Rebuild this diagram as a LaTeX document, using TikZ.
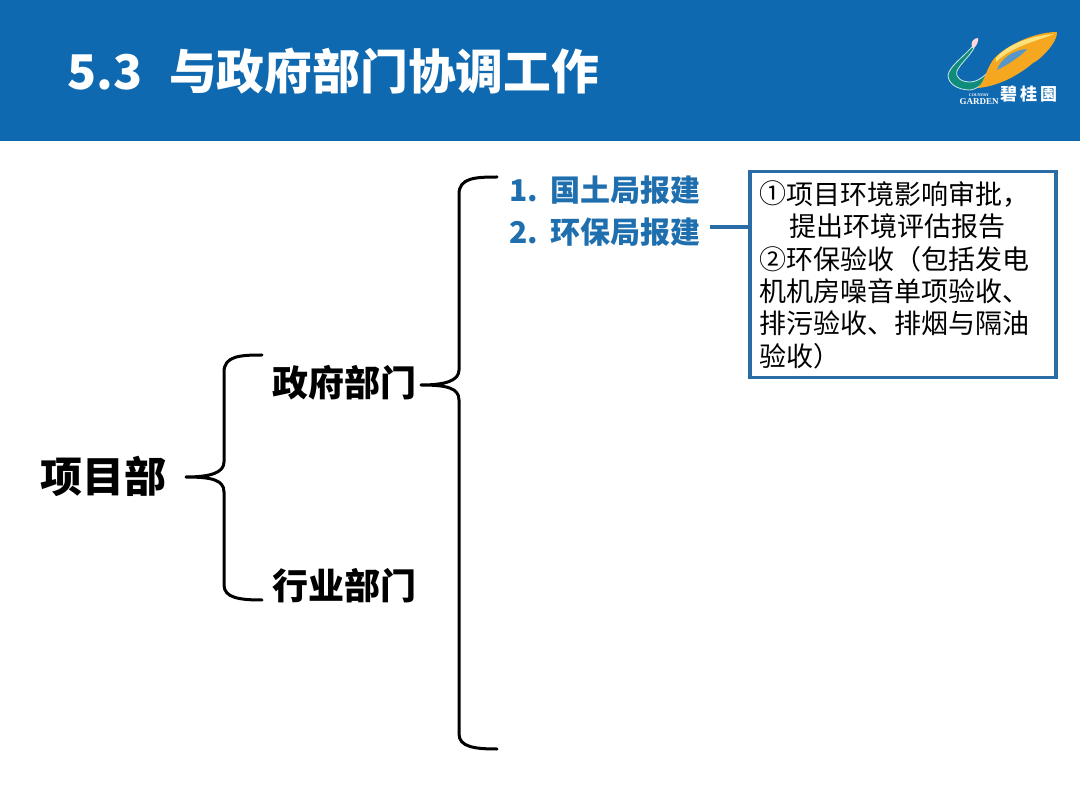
\documentclass[tikz,border=0pt]{standalone}
\usepackage{fontspec}
\setmainfont{Noto Sans CJK SC}
\newfontfamily\logoserif{Liberation Serif}
\usetikzlibrary{positioning,calc}
\definecolor{hblue}{HTML}{0E69B0}
\definecolor{tblue}{HTML}{1F6FAE}
\definecolor{bblue}{HTML}{2A6CA6}
\definecolor{lgold}{HTML}{F5A81F}
\definecolor{lpale}{HTML}{FBE27A}
\definecolor{lteal}{HTML}{0F8C7C}
\tikzset{
  title/.style={anchor=west,inner sep=0pt,text=white,font=\fontsize{47.8}{50}\selectfont\bfseries},
  lvlone/.style={anchor=west,inner sep=0pt,font=\fontsize{42}{44}\selectfont\bfseries},
  lvltwo/.style={anchor=west,inner sep=0pt,font=\fontsize{36}{38}\selectfont\bfseries},
  lvlthree/.style={anchor=west,inner sep=0pt,text=tblue,font=\fontsize{30}{32}\selectfont\bfseries},
  bkt/.style={draw=black,line width=3pt,line cap=round,line join=round},
}
\begin{document}
\begin{tikzpicture}[x=1pt,y=-1pt]
      \useasboundingbox (0,0) rectangle (1080,810);

      % header band
      \fill[hblue] (0,0) rectangle (1080,141);
      \node[title] (head) at (67,71) {5.3\hspace{27pt}与政府部门协调工作};

      % logo
      \fill[lteal,draw=white!80!lteal,line width=0.8pt] (972,47) .. controls (962,58) and (950,66) .. (948,75)
        .. controls (948,84) and (958,90) .. (970,90) .. controls (980,89) and (990,78) .. (993,67)
        .. controls (988,72) and (980,82) .. (970,82) .. controls (962,82) and (955,78) .. (957,71)
        .. controls (960,64) and (970,56) .. (974,48) -- cycle;
      \fill[white!85!red] (972,47) .. controls (970,42) and (974,38) .. (978,38)
        .. controls (979,42) and (976,46) .. (974,48) -- cycle;
      \fill[lgold] (978,88) .. controls (985,80) and (986,70) .. (993,60)
        .. controls (1000,50) and (1030,32) .. (1057,32) .. controls (1058,42) and (1040,60) .. (1033,63)
        .. controls (1020,74) and (1000,86) .. (978,88) -- cycle;
      \fill[lpale] (996,58) .. controls (1008,44) and (1030,36) .. (1054,34)
        .. controls (1040,40) and (1012,46) .. (996,62) -- cycle;
      \fill[hblue!70!white] (997,70) .. controls (1000,60) and (1012,50) .. (1027,49)
        .. controls (1024,54) and (1006,66) .. (997,70) -- cycle;
      \node[inner sep=0pt,text=white,font=\logoserif\fontsize{4}{4}\selectfont\bfseries] (lgcountry) at (979,95) {COUNTRY};
      \node[inner sep=0pt,text=white,font=\logoserif\fontsize{9}{9}\selectfont\bfseries] (lggarden) at (979,102) {GARDEN};
      \node[anchor=west,inner sep=0pt,text=white,font=\fontsize{17}{18}\selectfont\bfseries] (lgname) at (1000,94) {碧\hspace{3pt}桂\hspace{3pt}園};

      % tree labels
      \node[lvlone] (xmb) at (40,476) {项目部};
      \node[lvltwo] (zfbm) at (272,383) {政府部门};
      \node[lvltwo] (hybm) at (272,586) {行业部门};
      \node[lvlthree] (gtj) at (509,190) {1.\hspace{12pt}国土局报建};
      \node[lvlthree] (hbj) at (509,232) {2.\hspace{12pt}环保局报建};

      % detail box
      \node[draw=bblue,line width=3.5pt,fill=white,minimum width=306pt,minimum height=206pt,
            text width=287pt,align=left,inner sep=0pt,anchor=north west,
            font=\fontsize{27}{32.4}\selectfont] (env) at (748,170) {
        \raisebox{1pt}{①}项目环境影响审批，\\
        \hspace*{30pt}提出环境评估报告\\
        ②环保验收（包括发电\\
        机机房噪音单项验收、\\
        排污验收、排烟与隔油\\
        验收）\\[5pt]
      };
      \draw[bblue,line width=3.5pt] ([xshift=10pt,yshift=5pt]hbj.east) -- ([yshift=5pt]env.west |- hbj.east);

      % small bracket
      \coordinate (sa) at (262,355);
      \coordinate (sb) at (186,477);
      \coordinate (sc) at (262,600);
      \draw[bkt] (sa) .. controls (240,355) and (224,356) .. (224,372) -- (224,462)
        .. controls (224,472) and (212,477) .. (sb) .. controls (212,477) and (224,480) .. (224,492)
        -- (224,585) .. controls (224,598) and (240,600) .. (sc);

      % big bracket
      \coordinate (ba) at (497,177);
      \coordinate (bb) at (421,385);
      \coordinate (bc) at (497,749);
      \draw[bkt] (ba) .. controls (475,177) and (459,178) .. (459,194) -- (459,370)
        .. controls (459,380) and (447,385) .. (bb) .. controls (447,385) and (459,388) .. (459,400)
        -- (459,734) .. controls (459,747) and (475,749) .. (bc);

\end{tikzpicture}
\end{document}
